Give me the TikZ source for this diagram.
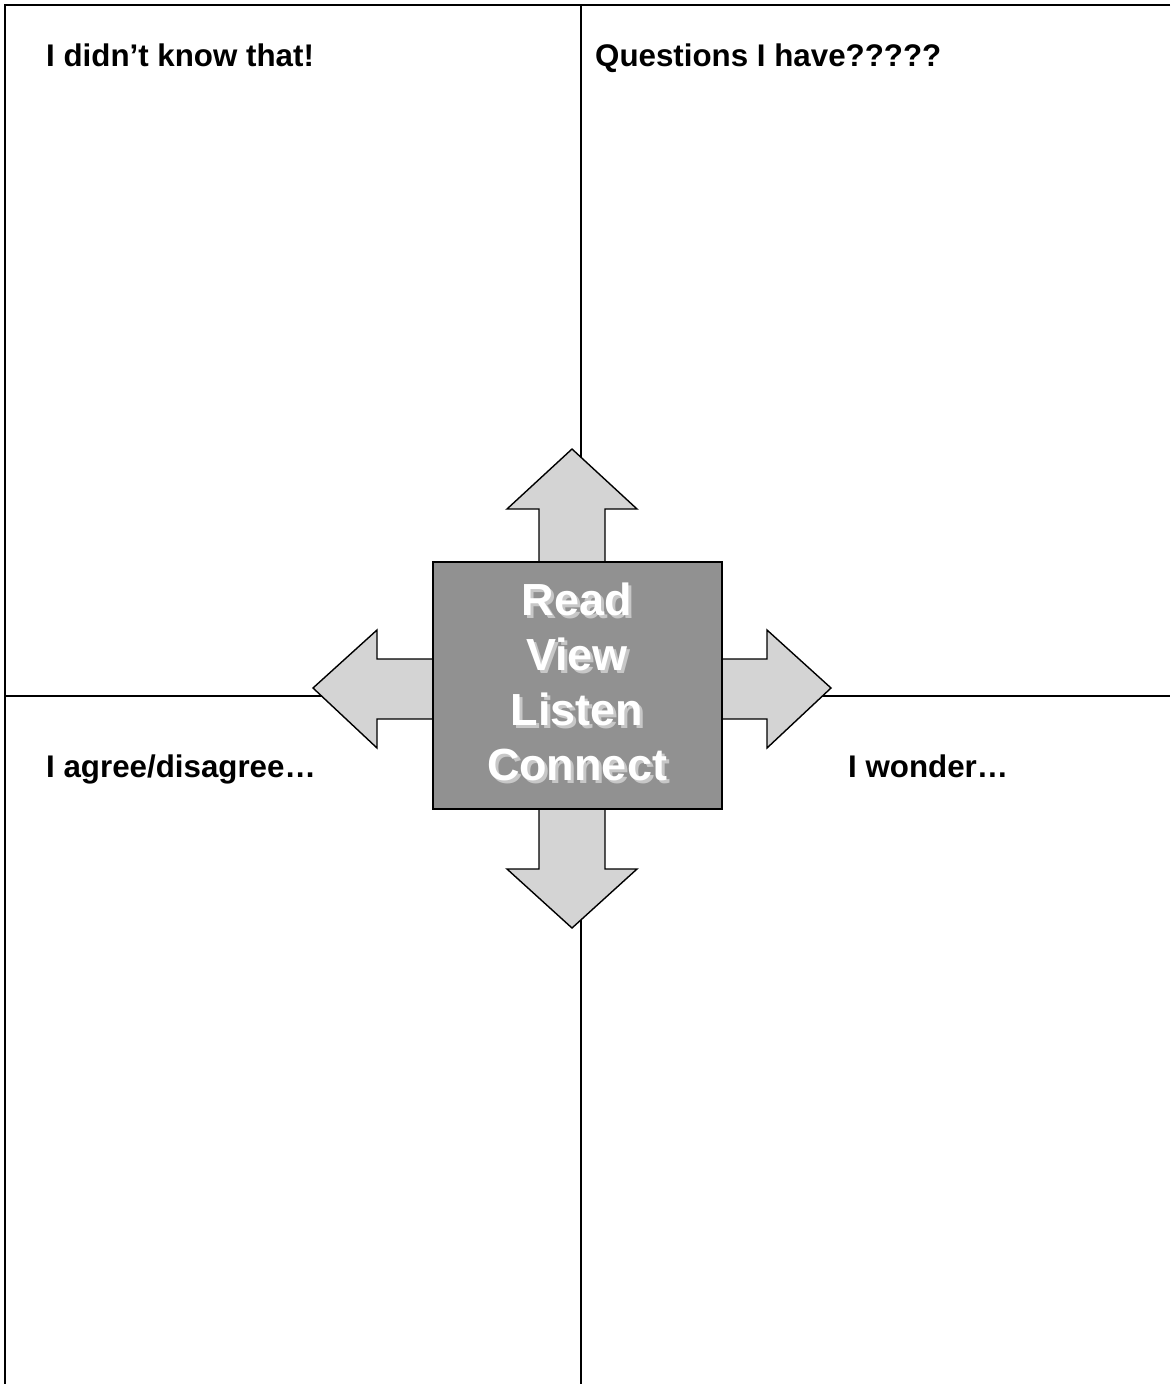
\documentclass[tikz,border=0pt]{standalone}
\usepackage{fontspec}
\setmainfont{Liberation Sans}
\begin{document}
\begin{tikzpicture}[x=1pt,y=-1pt,
  frameline/.style={line width=1.8pt, draw=black},
  heading/.style={anchor=base west, inner sep=0pt, font=\fontsize{31.3}{36}\selectfont\bfseries},
  bigarrow/.style={draw=black, line width=1.4pt, fill=black!17, line join=miter},
  centerbox/.style={draw=black, line width=2pt, fill=black!43, minimum width=289pt, minimum height=247pt, inner sep=0pt},
  boxword/.style={anchor=base, inner sep=0pt, text=white, font=\fontsize{45}{50}\selectfont\bfseries},
  boxshadow/.style={anchor=base, inner sep=0pt, text=black!22, font=\fontsize{45}{50}\selectfont\bfseries}
]
\useasboundingbox (0,0) rectangle (1170,1384);
% frame lines
\coordinate (tl) at (5,5);
\coordinate (tr) at (1170,5);
\coordinate (bl) at (5,1384);
\coordinate (tm) at (581,5);
\coordinate (bm) at (581,1384);
\coordinate (ml) at (5,696);
\coordinate (mr) at (1170,696);
\draw[frameline] (tr) -- (tl) -- (bl);
\draw[frameline] (tm) -- (bm);
\draw[frameline] (ml) -- (mr);
% headings
\node[heading] (h1) at (46,66) {I didn’t know that!};
\node[heading] (h2) at (595,66) {Questions I have?????};
\node[heading] (h3) at (46,777) {I agree/disagree…};
\node[heading] (h4) at (848,777) {I wonder…};
% arrows
\draw[bigarrow] (539,563) -- (539,509) -- (507,509) -- (572,449) -- (637,509) -- (605,509) -- (605,563);
\draw[bigarrow] (539,808) -- (539,869) -- (507,869) -- (572,928) -- (637,869) -- (605,869) -- (605,808);
\draw[bigarrow] (434,659) -- (377,659) -- (377,630) -- (313,688) -- (377,748) -- (377,719) -- (434,719);
\draw[bigarrow] (721,659) -- (767,659) -- (767,630) -- (831,688) -- (767,748) -- (767,719) -- (721,719);
% center box
\node[centerbox] (box) at (577.5,685.5) {};
\foreach \w/\y/\n in {Read/615/a, View/670/b, Listen/725/c, Connect/780/d}{
  \node[boxshadow] (s\n) at (580,\y+3) {\w};
  \node[boxword] (t\n) at (577,\y) {\w};
}
\end{tikzpicture}
\end{document}
